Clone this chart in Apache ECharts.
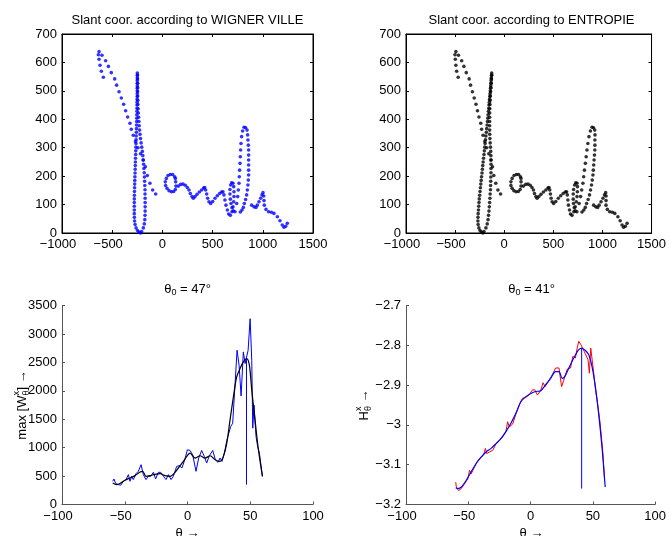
<!DOCTYPE html>
<html>
<head>
<meta charset="utf-8">
<script src="https://cdn.jsdelivr.net/npm/echarts@6/dist/echarts.min.js"></script>
<style>
  html, body { margin: 0; padding: 0; background: #fff; }
  #chart { width: 669px; height: 536px; }
</style>
</head>
<body>
<div id="chart"></div>
<script>
// ---- Handwriting samples in slant coordinates (Wigner-Ville estimate) ----
const strokeStart = [[-588,548],[-608,569],[-621,590],[-631,611],[-638,627],[-631,638]];
const strokeDiagonal = [[-602,625],[-565,606],[-538,586],[-509,564],[-475,542],[-456,520],[-432,497],[-409,475],
  [-386,453],[-366,430],[-346,408],[-323,386],[-310,365],[-290,344],[-268,322],[-244,300],[-218,279],[-192,257],
  [-170,233],[-150,202],[-124,175],[-97,151],[-67,137]];
const strokeLoopLeft = [[-250,563],[-250,554],[-250,545],[-250,536],[-250,527],[-250,518],[-250,509],[-250,500],
  [-251,490],[-251,480],[-252,470],[-252,460],[-253,450],[-253,439],[-254,428],[-255,416],[-255,404],[-256,392],
  [-257,380],[-258,367],[-259,354],[-261,341],[-262,328],[-263,315],[-264,302],[-265,289],[-266,276],[-268,263],
  [-269,250],[-270,237],[-271,224],[-272,211],[-274,198],[-275,185],[-276,172],[-277,159],[-278,146],[-279,133],
  [-280,120],[-280,107],[-280,94],[-280,81],[-280,68],[-279,55],[-277,42],[-272,30],[-262,18],[-248,9],[-232,3],[-218,0]];
const strokeLoopRight = [[-207,5],[-190,18],[-180,32],[-175,47],[-173,62],[-172,77],[-172,92],[-172,107],[-172,122],
  [-173,137],[-173,152],[-175,167],[-177,182],[-179,197],[-181,212],[-184,227],[-187,242],[-190,257],[-195,272],
  [-200,287],[-206,302],[-212,317],[-218,332],[-223,347],[-227,362],[-231,377],[-234,392],[-237,407],[-240,422],
  [-242,437],[-244,452],[-245,467],[-246,482],[-247,497],[-247,512],[-247,527],[-248,542],[-248,556]];
const strokeA = [[122,198],[102,206],[79,206],[56,202],[39,192],[29,180],[32,167],[46,157],[66,149],[89,145],
  [112,146],[129,153],[135,165],[132,180],[129,192]];
const strokeWaves = [[159,165],[182,171],[205,172],[228,168],[248,160],[265,151],[278,139],[295,128],[308,122],
  [325,128],[345,136],[368,144],[391,151],[411,158],[421,160],[431,151],[441,137],[451,122],[464,110],[481,104],
  [501,111],[524,122],[547,131],[570,139],[590,144],[603,145],[613,134],[623,116],[633,98],[647,81],[660,67],[677,62]];
const strokeSmallLoop = [[693,75],[703,92],[710,110],[713,128],[713,145],[710,163],[703,175],[690,177],[680,169],
  [673,153],[673,137],[677,119],[683,104],[693,89],[706,78],[723,75]];
const strokeTallLoop = [[740,104],[750,128],[756,151],[763,175],[766,198],[769,221],[773,245],[776,268],[779,292],
  [783,315],[789,339],[799,359],[813,372],[829,370],[843,362],[849,345],[852,327],[856,309],[859,292],[859,274],
  [859,257],[859,239],[859,221],[859,204],[856,186],[852,169],[846,151],[839,134],[829,118],[816,104],[806,90],
  [793,81],[776,74]];
const strokeTail = [[889,98],[912,92],[932,90],[945,98],[962,110],[979,122],[992,134],[1002,142],[1009,130],
  [1012,114],[1015,98],[1032,83],[1058,75],[1085,73],[1111,69],[1145,57],[1171,43],[1194,28],[1211,20],[1228,24],[1244,34]];

// Estimated slant angles (degrees)
const theta0Wigner = 47;
const theta0Entropie = 41;

// ---- Criterion curves versus slant angle theta ----
const wvRaw = [[-59.6,408],[-58.6,449],[-57.2,368],[-55.1,350],[-53.2,339],[-51.1,408],[-49.0,438],[-47.1,525],
  [-45.8,408],[-44.5,496],[-43.2,438],[-41.0,543],[-39.2,583],[-37.0,700],[-35.2,525],[-33.1,438],[-31.2,496],
  [-29.3,496],[-27.2,566],[-25.4,449],[-23.2,566],[-21.4,566],[-19.2,496],[-17.1,438],[-15.2,525],[-13.1,438],
  [-11.3,496],[-8.6,671],[-6.5,683],[-4.4,642],[-2.2,787],[-0.1,962],[2.0,951],[4.1,875],[6.8,583],[8.9,817],
  [11.3,951],[13.4,846],[15.3,729],[17.4,857],[20.1,951],[22.2,787],[24.3,741],[25.9,817],[27.5,758],[29.4,904],
  [31.3,1126],[32.8,1108],[34.4,1371],[36.0,1429],[37.6,2013],[39.5,2713],[41.1,2450],[42.7,1908],[44.5,2684],
  [45.9,2479],[48.3,2713],[49.9,3267],[51.2,2538],[52.0,1342],[53.0,1750],[54.6,1196],[55.9,1021],[57.3,904],[59.7,496]];
const wvSmooth = [[-59.6,379],[-56.4,350],[-53.8,368],[-49.8,426],[-45.8,467],[-41.8,508],[-37.8,572],[-35.7,583],
  [-33.1,496],[-29.9,508],[-25.9,531],[-21.9,543],[-17.9,508],[-13.9,496],[-9.9,566],[-5.9,683],[-2.0,799],[2.0,904],
  [6.0,817],[10.0,857],[14.0,817],[18.0,857],[22.0,787],[25.9,758],[28.6,846],[31.3,1079],[33.9,1488],[36.6,1896],
  [39.2,2246],[41.9,2392],[44.5,2508],[47.2,2567],[49.3,2450],[51.2,2013],[53.8,1488],[56.5,963],[59.7,496]];
const entRaw = [[-60.1,-3.144],[-59.6,-3.156],[-57.8,-3.165],[-55.6,-3.160],[-53.0,-3.148],[-50.3,-3.135],[-49.0,-3.114],
  [-47.7,-3.123],[-45.0,-3.106],[-42.3,-3.089],[-39.7,-3.081],[-37.8,-3.076],[-36.2,-3.059],[-35.2,-3.072],[-33.0,-3.068],
  [-30.4,-3.064],[-27.7,-3.047],[-25.1,-3.040],[-22.4,-3.030],[-19.8,-3.017],[-18.4,-2.992],[-17.1,-3.005],[-14.4,-2.998],
  [-11.8,-2.973],[-8.6,-2.946],[-6.5,-2.933],[-3.8,-2.931],[-1.2,-2.925],[1.5,-2.912],[3.4,-2.912],[5.5,-2.925],
  [8.1,-2.914],[10.0,-2.894],[11.6,-2.904],[14.3,-2.891],[17.4,-2.874],[20.1,-2.857],[22.8,-2.857],[24.9,-2.904],
  [26.7,-2.887],[29.4,-2.860],[32.1,-2.857],[33.9,-2.828],[36.0,-2.832],[37.4,-2.807],[38.7,-2.790],[40.3,-2.798],
  [41.9,-2.794],[43.0,-2.815],[44.6,-2.811],[46.1,-2.836],[47.2,-2.870],[48.3,-2.807],[49.3,-2.811],[50.4,-2.862],
  [52.0,-2.908],[54.1,-2.954],[55.7,-2.992],[56.8,-2.996],[58.1,-3.072],[59.4,-3.139]];
const entSmooth = [[-60.1,-3.158],[-58.3,-3.160],[-55.6,-3.156],[-51.6,-3.139],[-47.7,-3.118],[-43.7,-3.097],
  [-39.7,-3.081],[-35.7,-3.068],[-31.7,-3.059],[-27.7,-3.047],[-23.7,-3.034],[-19.8,-3.017],[-15.8,-2.996],
  [-11.8,-2.971],[-7.8,-2.942],[-3.8,-2.929],[0.2,-2.921],[4.2,-2.916],[8.1,-2.914],[12.1,-2.899],[16.1,-2.883],
  [20.1,-2.866],[22.8,-2.866],[25.4,-2.883],[27.5,-2.878],[30.7,-2.857],[34.7,-2.832],[38.2,-2.813],[40.8,-2.807],
  [44.0,-2.813],[46.7,-2.824],[49.3,-2.853],[52.0,-2.904],[54.6,-2.971],[57.3,-3.055],[59.9,-3.156]];

// Axis tick settings
const slantXTicks = [-1000, 1500, 500];
const slantYTicks = [0, 700, 100];
const thetaTicks = [-100, 100, 50];
const wvTicks = [0, 3500, 500];
const entTicks = [-3.2, -2.7, 0.1];

// ---- derived series ----
const slantWigner = [].concat(strokeStart, strokeDiagonal, strokeLoopLeft, strokeLoopRight,
  strokeA, strokeWaves, strokeSmallLoop, strokeTallLoop, strokeTail);
// re-slant the same samples with the entropy angle
const rad = d => d * Math.PI / 180;
const reslant = 1 / Math.tan(rad(theta0Entropie)) - 1 / Math.tan(rad(theta0Wigner));
const slantEntropie = slantWigner.map(p => [p[0] + p[1] * reslant, p[1]]);

const ys = arr => arr.map(p => p[1]);
const wvMarker = [[theta0Wigner, Math.min(...ys(wvSmooth))], [theta0Wigner, Math.max(...ys(wvSmooth))]];
const entMarker = [[theta0Entropie, Math.min(...ys(entSmooth))], [theta0Entropie, Math.max(...ys(entSmooth))]];

const FONT = '"Liberation Sans", Arial, Helvetica, sans-serif';
const fmt = v => String(+v.toFixed(6)).replace('-', '\u2212');
// negative x labels sit slightly left of their tick
const fmtX = v => v < 0 ? '{n|' + fmt(v) + '}' : fmt(v);
const labelRich = { n: { padding: [0, 8, 0, 0], fontSize: 13, fontFamily: FONT, color: '#000' } };

function axis(ticks, extra, isX) {
  return Object.assign({
    type: 'value', min: ticks[0], max: ticks[1], interval: ticks[2],
    splitLine: { show: false },
    axisLine: { show: true, onZero: false, lineStyle: { color: '#000', width: 1 } },
    axisTick: { show: true, inside: true, length: 3, lineStyle: { color: '#000' } },
    axisLabel: { show: true, color: '#000', fontSize: 13, fontFamily: FONT, margin: 5,
                 formatter: isX ? fmtX : fmt, rich: isX ? labelRich : undefined }
  }, extra);
}
function mirror(ticks, extra) {
  const a = axis(ticks, extra);
  a.axisLabel = { show: false };
  return a;
}
const grayAxis = { axisLine: { show: true, onZero: false, lineStyle: { color: '#555', width: 1 } },
                   axisTick: { show: true, inside: true, length: 3, lineStyle: { color: '#555' } } };

// composed text (sub/superscripts) via graphic elements
const ctx = document.createElement('canvas').getContext('2d');
function measure(t, size) { ctx.font = size + 'px ' + FONT; return ctx.measureText(t).width; }
function composed(parts, cx, cy, rotation) {
  const widths = parts.map(p => p.stack ? Math.max(...p.stack.map(s => measure(s.t, p.size))) : measure(p.t, p.size));
  const total = widths.reduce((a, b) => a + b, 0);
  let off = -total / 2;
  const children = [];
  parts.forEach((p, i) => {
    const items = p.stack ? p.stack : [{ t: p.t, dy: p.dy || 0 }];
    items.forEach(s => children.push({
      type: 'text', x: off, y: s.dy,
      style: { text: s.t, font: p.size + 'px ' + FONT, fill: '#000', textAlign: 'left',
               textVerticalAlign: 'middle', verticalAlign: 'middle' }
    }));
    off += widths[i];
  });
  return { type: 'group', x: cx, y: cy, rotation: rotation || 0, silent: true, children };
}
function plain(t, cx, cy) {
  return { type: 'text', x: cx, y: cy, silent: true,
    style: { text: t, font: '13px ' + FONT, fill: '#000', textAlign: 'center', textVerticalAlign: 'middle', verticalAlign: 'middle' } };
}

const chart = echarts.init(document.getElementById('chart'), null, { renderer: 'canvas' });
chart.setOption({
  animation: false,
  backgroundColor: '#fff',
  grid: [
    { left: 62, top: 34, width: 251, height: 199, show: true, borderColor: '#000', borderWidth: 1 },
    { left: 406, top: 34, width: 251, height: 199, show: true, borderColor: '#000', borderWidth: 1 },
    { left: 62, top: 305.5, width: 251, height: 199 },
    { left: 406, top: 305.5, width: 251, height: 199 }
  ],
  xAxis: [
    axis(slantXTicks, { gridIndex: 0, position: 'bottom' }, true),
    mirror(slantXTicks, { gridIndex: 0, position: 'top' }),
    axis(slantXTicks, { gridIndex: 1, position: 'bottom' }, true),
    mirror(slantXTicks, { gridIndex: 1, position: 'top' }),
    Object.assign(axis(thetaTicks, { gridIndex: 2, position: 'bottom' }, true), grayAxis),
    Object.assign(axis(thetaTicks, { gridIndex: 3, position: 'bottom' }, true), grayAxis)
  ],
  yAxis: [
    axis(slantYTicks, { gridIndex: 0, position: 'left' }),
    mirror(slantYTicks, { gridIndex: 0, position: 'right' }),
    axis(slantYTicks, { gridIndex: 1, position: 'left' }),
    mirror(slantYTicks, { gridIndex: 1, position: 'right' }),
    Object.assign(axis(wvTicks, { gridIndex: 2, position: 'left' }), grayAxis),
    Object.assign(axis(entTicks, { gridIndex: 3, position: 'left' }), grayAxis)
  ],
  series: [
    { type: 'scatter', xAxisIndex: 0, yAxisIndex: 0, data: slantWigner, symbol: 'circle', symbolSize: 3.6,
      itemStyle: { color: '#0000ff' }, silent: true },
    { type: 'scatter', xAxisIndex: 2, yAxisIndex: 2, data: slantEntropie, symbol: 'circle', symbolSize: 3.6,
      itemStyle: { color: '#000' }, silent: true },
    { type: 'line', xAxisIndex: 4, yAxisIndex: 4, data: wvRaw, showSymbol: false, silent: true,
      lineStyle: { color: '#0000ff', width: 1 } },
    { type: 'line', xAxisIndex: 4, yAxisIndex: 4, data: wvSmooth, showSymbol: false, smooth: 0.3, silent: true,
      lineStyle: { color: '#000', width: 1.2 } },
    { type: 'line', xAxisIndex: 4, yAxisIndex: 4, data: wvMarker, showSymbol: false, silent: true,
      lineStyle: { color: '#0000ff', width: 1 } },
    { type: 'line', xAxisIndex: 5, yAxisIndex: 5, data: entRaw, showSymbol: false, silent: true,
      lineStyle: { color: '#ff0000', width: 1 } },
    { type: 'line', xAxisIndex: 5, yAxisIndex: 5, data: entSmooth, showSymbol: false, smooth: 0.3, silent: true,
      lineStyle: { color: '#0000ff', width: 1.2 } },
    { type: 'line', xAxisIndex: 5, yAxisIndex: 5, data: entMarker, showSymbol: false, silent: true,
      lineStyle: { color: '#0000ff', width: 1 } }
  ],
  graphic: [
    plain('Slant coor. according to WIGNER VILLE', 187.5, 20),
    plain('Slant coor. according to ENTROPIE', 531.5, 20),
    composed([{ t: '\u03b8', size: 13 }, { t: '0', size: 9, dy: 4 }, { t: ' = ' + theta0Wigner + '\u00b0', size: 13 }], 187.5, 289),
    composed([{ t: '\u03b8', size: 13 }, { t: '0', size: 9, dy: 4 }, { t: ' = ' + theta0Entropie + '\u00b0', size: 13 }], 531.5, 289),
    composed([{ t: 'max [W', size: 13 }, { stack: [{ t: 'x', dy: -5 }, { t: '\u03b8', dy: 5 }], size: 9 },
              { t: '] \u2192', size: 13 }], 22, 405, Math.PI / 2),
    composed([{ t: 'H', size: 13 }, { stack: [{ t: 'x', dy: -5 }, { t: '\u03b8', dy: 5 }], size: 9 },
              { t: ' \u2192', size: 13 }], 364, 405, Math.PI / 2),
    plain('\u03b8 \u2192', 187.5, 533),
    plain('\u03b8 \u2192', 531.5, 533)
  ]
});
</script>
</body>
</html>
